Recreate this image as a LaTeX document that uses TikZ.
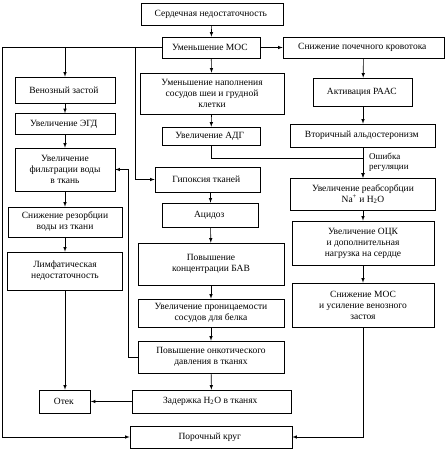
\documentclass[tikz,border=0pt]{standalone}
\usepackage{fontspec}
\setmainfont{Liberation Serif}
\usetikzlibrary{positioning,arrows}

\begin{document}
\begin{tikzpicture}[x = 1pt, y = -1pt,
  box/.style = {draw, line width = 0.6pt, align = center, inner sep = 1pt,
    font = \fontsize{9.5}{11}\selectfont},
  arr/.style = {line width = 0.6pt, -latex}]
  \useasboundingbox (0, 0) rectangle (445, 450);

  \node[box, minimum width = 142pt, minimum height = 22pt] (N1) at (212, 14) {
    Сердечная недостаточность
  };

  \node[box, minimum width = 98pt, minimum height = 21pt] (N2) at (211, 47.5) {
    Уменьшение МОС
  };

  \node[box, minimum width = 161pt, minimum height = 21pt] (N3) at (363.5, 47.5) {
    Снижение почечного кровотока
  };

  \node[box, minimum width = 144pt, minimum height = 41pt] (N4) at (212, 93.5) {
    Уменьшение наполнения\\ сосудов шеи и грудной\\ клетки
  };

  \node[box, minimum width = 100pt, minimum height = 26pt] (N5) at (65, 90) {
    Венозный застой
  };

  \node[box, minimum width = 99pt, minimum height = 28pt] (N6) at (363, 92) {
    Активация РААС
  };

  \node[box, minimum width = 100pt, minimum height = 21pt] (N7) at (65, 124) {
    Увеличение ЭГД
  };

  \node[box, minimum width = 98pt, minimum height = 18pt] (N8) at (211, 136) {
    Увеличение АДГ
  };

  \node[box, minimum width = 145pt, minimum height = 23pt] (N9) at (363, 135.5) {
    Вторичный альдостеронизм
  };

  \node[box, minimum width = 100pt, minimum height = 43pt] (N10) at (65, 169.5) {
    Увеличение\\ фильтрации воды\\ в ткань
  };

  \node[box, minimum width = 105pt, minimum height = 25pt] (N11) at (207.5, 179.5) {
    Гипоксия тканей
  };

  \node[box, minimum width = 145pt, minimum height = 32pt] (N12) at (363, 194) {
    Увеличение реабсорбции\\ Na\textsuperscript{+} и H\textsubscript{2}O
  };

  \node[box, minimum width = 96pt, minimum height = 24pt] (N13) at (210.5, 215) {
    Ацидоз
  };

  \node[box, minimum width = 114pt, minimum height = 30pt] (N14) at (65, 222) {
    Снижение резорбции\\ воды из ткани
  };

  \node[box, minimum width = 142pt, minimum height = 44pt] (N15) at (363, 243) {
    Увеличение ОЦК\\ и дополнительная\\ нагрузка на сердце
  };

  \node[box, minimum width = 146pt, minimum height = 42pt] (N16) at (211, 264) {
    Повышение\\ концентрации БАВ
  };

  \node[box, minimum width = 115pt, minimum height = 38pt] (N17) at (65, 271) {
    Лимфатическая\\ недостаточность
  };

  \node[box, minimum width = 146pt, minimum height = 28pt] (N18) at (211, 313) {
    Увеличение проницаемости\\ сосудов для белка
  };

  \node[box, minimum width = 142pt, minimum height = 44pt] (N19) at (363, 305) {
    Снижение МОС\\ и усиление венозного\\ застоя
  };

  \node[box, minimum width = 146pt, minimum height = 32pt] (N20) at (211, 357) {
    Повышение онкотического\\ давления в тканях
  };

  \node[box, minimum width = 51pt, minimum height = 23pt] (N21) at (65, 401.5) {
    Отек
  };

  \node[box, minimum width = 159pt, minimum height = 23pt] (N22) at (211.5, 401.5) {
    Задержка H\textsubscript{2}O в тканях
  };

  \node[box, minimum width = 162pt, minimum height = 22pt] (N23) at (211, 437) {
    Порочный круг
  };

  \node[align = left, anchor = west, inner sep = 0pt,
    font = \fontsize{9}{10}\selectfont] (T1) at (369, 162) {
    Ошибка\\ регуляции
  };

  \coordinate (L1) at (2, 437);
  \coordinate (L2) at (135, 0);
  \coordinate (L3) at (128, 0);

  \draw[arr] (N1) -- (N2);
  \draw[arr] (N2) -- (N3);
  \draw[arr] (N2) -- (N4);
  \draw[arr] (N4) -- (N8);
  \draw[arr] (N8.south) -- ++(0, 13) -| (N12.north);
  \draw[arr] (N3) -- (N6);
  \draw[arr] (N6) -- (N9);
  \draw[arr] (N9) -- (N12);
  \draw[arr] (N12) -- (N15);
  \draw[arr] (N15) -- (N19);
  \draw[arr] (N19.south) |- (N23.east);
  \draw[arr] (N2.west) -| (L1) -- (N23.west);
  \draw[arr] (N2.west -| N5.north) -- (N5.north);
  \draw[arr] (N2.west -| L2) |- (N11.west);
  \draw[arr] (N5) -- (N7);
  \draw[arr] (N7) -- (N10);
  \draw[arr] (N10) -- (N14);
  \draw[arr] (N14) -- (N17);
  \draw[arr] (N17) -- (N21);
  \draw[arr] (N11.south -| N13) -- (N13);
  \draw[arr] (N13) -- (N16);
  \draw[arr] (N16) -- (N18);
  \draw[arr] (N18) -- (N20);
  \draw[arr] (N20) -- (N22);
  \draw[arr] (N22) -- (N21);
  \draw[arr] (N20.west) -| (N10.east -| L3) -- (N10.east);
\end{tikzpicture}
\end{document}
